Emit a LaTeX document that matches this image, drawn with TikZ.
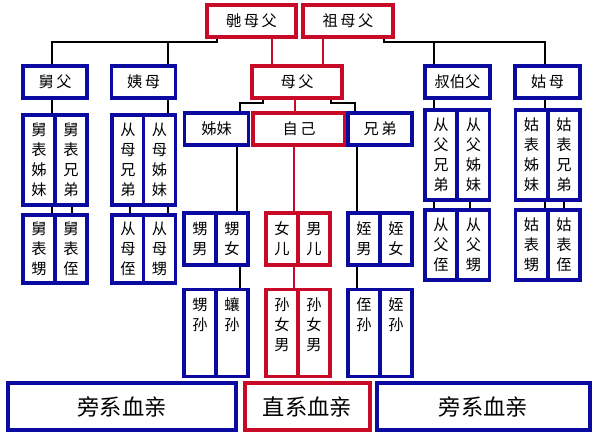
\documentclass[tikz,border=0pt]{standalone}
\usepackage{fontspec}
\setmainfont{Noto Sans CJK SC}
\usetikzlibrary{positioning}

\definecolor{kinblue}{RGB}{10,10,160}
\definecolor{kinred}{RGB}{200,10,40}

\tikzset{
  box/.style = {draw=kinblue, line width=2.6pt, fill=white, inner sep=0pt,
                font=\fontsize{13}{17}\selectfont, align=center},
  redbox/.style = {box, draw=kinred},
  cell/.style = {box, minimum width=0.96cm},
  redcell/.style = {cell, draw=kinred},
  link/.style = {line width=1.6pt, black},
  redlink/.style = {line width=1.6pt, kinred},
}
\newcommand\topcol[1]{\parbox[c][64pt][t]{1.1em}{\centering\vspace*{2pt}#1}}

\begin{document}
\begin{tikzpicture}[x=0.03cm, y=-0.03cm]
        \useasboundingbox (0,0) rectangle (600,437);

        % top generation
        \node[redbox, minimum width=2.67cm, minimum height=0.96cm] (wzf) at (251.5,21) {毑\,母\,父};
        \node[redbox, minimum width=2.7cm, minimum height=0.96cm] (zf) at (348,21) {祖\,母\,父};

        % parents generation
        \node[box, minimum width=1.92cm, minimum height=0.96cm] (jf) at (55,82) {舅\,父};
        \node[box, minimum width=1.9cm, minimum height=0.96cm] (ym) at (143.5,82) {姨\,母};
        \node[redbox, minimum width=2.7cm, minimum height=0.96cm] (mf) at (297,82) {母\,父};
        \node[box, minimum width=1.95cm, minimum height=0.96cm] (sbf) at (457.5,82) {叔伯父};
        \node[box, minimum width=1.95cm, minimum height=0.96cm] (gm) at (547.5,82) {姑\,母};

        % own generation
        \node[box, minimum width=1.9cm, minimum height=0.96cm] (zm) at (216.5,129) {姊妹};
        \node[redbox, minimum width=2.76cm, minimum height=0.96cm] (self) at (299,129) {自\,己};
        \node[box, minimum width=1.92cm, minimum height=0.96cm] (xd) at (380,129) {兄\,弟};

        % cousins and their children
        \node[cell, minimum height=2.7cm] (jbzm) at (39,160) {舅\\表\\姊\\妹};
        \node[cell, minimum height=2.7cm] (jbxd) at (71,160) {舅\\表\\兄\\弟};
        \node[cell, minimum height=2.04cm] (jbs) at (39,249) {舅\\表\\甥};
        \node[cell, minimum height=2.04cm] (jbz) at (71,249) {舅\\表\\侄};

        \node[cell, minimum height=2.7cm] (cmxd) at (128,160) {从\\母\\兄\\弟};
        \node[cell, minimum height=2.7cm] (cmzm) at (159.5,160) {从\\母\\姊\\妹};
        \node[cell, minimum height=2.04cm] (cmz) at (128,249) {从\\母\\侄};
        \node[cell, minimum height=2.04cm] (cms) at (159.5,249) {从\\母\\甥};

        \node[cell, minimum height=2.7cm] (cfxd) at (441,155) {从\\父\\兄\\弟};
        \node[cell, minimum height=2.7cm] (cfzm) at (473.5,155) {从\\父\\姊\\妹};
        \node[cell, minimum height=2.1cm] (cfz) at (441,245) {从\\父\\侄};
        \node[cell, minimum height=2.1cm] (cfs) at (473.5,245) {从\\父\\甥};

        \node[cell, minimum height=2.7cm] (gbzm) at (531.5,155) {姑\\表\\姊\\妹};
        \node[cell, minimum height=2.7cm] (gbxd) at (564,155) {姑\\表\\兄\\弟};
        \node[cell, minimum height=2.1cm] (gbs) at (531.5,245) {姑\\表\\甥};
        \node[cell, minimum height=2.1cm] (gbz) at (564,245) {姑\\表\\侄};

        % children and grandchildren
        \node[cell, minimum height=1.56cm] (sn) at (200,239) {甥\\男};
        \node[cell, minimum height=1.56cm] (sv) at (232,239) {甥\\女};
        \node[cell, minimum height=2.61cm, anchor=north] (ss) at (200,288) {\topcol{甥\\孙}};
        \node[cell, minimum height=2.61cm, anchor=north] (ns) at (232,288) {\topcol{蠰\\孙}};

        \node[redcell, minimum height=1.56cm] (ne) at (282,239) {女\\儿};
        \node[redcell, minimum height=1.56cm] (me) at (314,239) {男\\儿};
        \node[redcell, minimum height=2.61cm, anchor=north] (snv) at (282,288) {\topcol{孙\\女\\男}};
        \node[redcell, minimum height=2.61cm, anchor=north] (snm) at (314,288) {\topcol{孙\\女\\男}};

        \node[cell, minimum height=1.56cm] (zn) at (364,239) {姪\\男};
        \node[cell, minimum height=1.56cm] (zv) at (396,239) {姪\\女};
        \node[cell, minimum height=2.61cm, anchor=north] (zs) at (364,288) {\topcol{侄\\孙}};
        \node[cell, minimum height=2.61cm, anchor=north] (zvs) at (396,288) {\topcol{姪\\孙}};

        % legend
        \node[box, minimum width=6.84cm, minimum height=1.41cm, font=\fontsize{19}{22}\selectfont] (pl) at (122,406.5) {旁系血亲};
        \node[redbox, minimum width=3.75cm, minimum height=1.41cm, font=\fontsize{19}{22}\selectfont] (zl) at (307.5,406.5) {直系血亲};
        \node[box, minimum width=6.39cm, minimum height=1.41cm, font=\fontsize{19}{22}\selectfont] (pr) at (483.5,406.5) {旁系血亲};

        % connectors
        \draw[link] (wzf.south -| 217,0) |- (52,42) -- (jf.north -| 52,0);
        \draw[link] (168,42) -- (ym.north -| 168,0);
        \draw[link] (zf.south -| 384,0) |- (545,42) -- (gm.north -| 545,0);
        \draw[link] (434,42) -- (sbf.north -| 434,0);
        \draw[redlink] (wzf.south -| 272,0) -- (mf.north -| 272,0);
        \draw[redlink] (zf.south -| 323,0) -- (mf.north -| 323,0);
        \draw[redlink] (mf.south -| 295,0) -- (self.north -| 295,0);
        \draw[link] (mf.south -| 263,0) |- (240,103) -- (zm.north -| 240,0);
        \draw[link] (mf.south -| 331,0) |- (355,103) -- (xd.north -| 355,0);

        \draw[link] (jf.south -| 52,0) -- (jbzm.north -| 52,0);
        \draw[link] (jbzm.south -| 52,0) -- (jbs.north -| 52,0);
        \draw[link] (jbxd.south -| 72,0) -- (jbz.north -| 72,0);
        \draw[link] (ym.south -| 168,0) -- (cmzm.north -| 168,0);
        \draw[link] (cmxd.south -| 130,0) -- (cmz.north -| 130,0);
        \draw[link] (cmzm.south -| 168,0) -- (cms.north -| 168,0);
        \draw[link] (sbf.south -| 434,0) -- (cfxd.north -| 434,0);
        \draw[link] (cfxd.south -| 434,0) -- (cfz.north -| 434,0);
        \draw[link] (cfzm.south -| 470,0) -- (cfs.north -| 470,0);
        \draw[link] (gm.south -| 545,0) -- (gbzm.north -| 545,0);
        \draw[link] (gbzm.south -| 545,0) -- (gbs.north -| 545,0);
        \draw[link] (gbxd.south -| 564,0) -- (gbz.north -| 564,0);

        \draw[link] (zm.south -| 237,0) -- (sv.north -| 237,0);
        \draw[link] (sv.south -| 240,0) -- (ns.north -| 240,0);
        \draw[redlink] (self.south -| 294,0) -- (ne.north -| 294,0);
        \draw[redlink] (ne.south -| 294,0) -- (snv.north -| 294,0);
        \draw[link] (xd.south -| 357,0) -- (zn.north -| 357,0);
        \draw[link] (zn.south -| 357,0) -- (zs.north -| 357,0);
    \end{tikzpicture}
\end{document}
